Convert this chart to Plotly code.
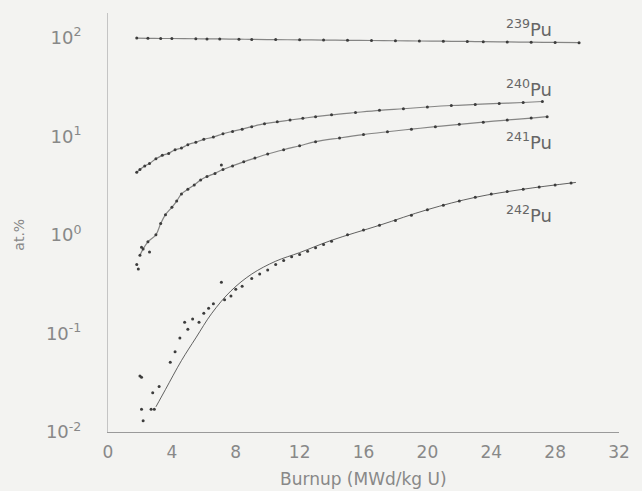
import math
import plotly.graph_objects as go

# ---------------- data ----------------
pu239_x = [1.8, 2.5, 3.3, 4.0, 5.5, 6.2, 7.0, 8.2, 9.0, 10.5, 12.0, 13.5, 15.0, 16.5, 18.0,
           19.5, 21.0, 22.5, 23.5, 25.0, 26.5, 28.0, 29.5]
pu239_y = [99, 98.5, 98, 98, 97.5, 97, 97, 96.5, 96, 95.5, 95, 94.5, 94, 93.5, 93,
           92.5, 92, 91.5, 91, 90.5, 90, 89.5, 89]

pu240_x = [1.8, 2.0, 2.3, 2.6, 3.0, 3.4, 3.8, 4.2, 4.6, 5.0, 5.5, 6.0, 6.6, 7.2, 7.8, 8.4,
           9.0, 9.8, 10.6, 11.4, 12.2, 13.0, 14.0, 15.5, 17.0, 18.5, 20.0, 21.5, 23.0, 24.5,
           26.0, 27.2]
pu240_y = [4.3, 4.6, 5.0, 5.3, 5.9, 6.4, 6.7, 7.3, 7.6, 8.2, 8.7, 9.3, 9.8, 10.6, 11.2, 11.8,
           12.5, 13.4, 14.0, 14.6, 15.2, 15.8, 16.5, 17.4, 18.3, 19.0, 19.8, 20.5, 21.0, 21.5,
           22.0, 22.5]

pu241_x = [2.0, 2.2, 2.5, 3.0, 3.3, 3.6, 4.0, 4.3, 4.6, 5.0, 5.4, 5.8, 6.2,
           6.7, 7.2, 7.8, 8.5, 9.2, 10.0, 11.0, 12.0, 13.0, 14.5, 16.0, 17.5, 19.0, 20.5,
           22.0, 23.5, 25.0, 26.5, 27.5]
pu241_y = [0.62, 0.72, 0.85, 1.0, 1.3, 1.6, 1.9, 2.2, 2.6, 2.9, 3.2, 3.6, 3.9,
           4.2, 4.6, 5.0, 5.5, 6.0, 6.6, 7.3, 8.0, 8.8, 9.6, 10.4, 11.1, 11.8, 12.5,
           13.2, 13.9, 14.6, 15.3, 15.8]
pu241_scatter_x = [1.8, 1.9, 2.1, 2.6, 7.1]
pu241_scatter_y = [0.5, 0.45, 0.75, 0.67, 5.1]

pu242_x = [2.0, 2.1, 2.1, 2.2, 2.7, 2.9, 2.8, 3.2, 3.9, 4.2, 4.5, 4.8, 5.0, 5.3, 5.7, 6.0,
           6.3, 6.6, 7.1, 7.3, 7.7, 8.0, 8.4, 9.0, 9.5, 10.0, 10.5, 11.0, 11.5, 12.0, 12.5,
           13.0, 13.5, 14.0, 15.0, 16.0, 17.0, 18.0, 19.0, 20.0, 21.0, 22.0, 23.0, 24.0,
           25.0, 26.0, 27.0, 28.0, 29.0]
pu242_y = [0.037, 0.036, 0.017, 0.013, 0.017, 0.017, 0.025, 0.029, 0.051, 0.065, 0.09, 0.13,
           0.11, 0.14, 0.13, 0.16, 0.18, 0.2, 0.33, 0.22, 0.24, 0.28, 0.3, 0.36, 0.4, 0.44,
           0.5, 0.55, 0.6, 0.63, 0.68, 0.74, 0.8, 0.86, 1.0, 1.12, 1.25, 1.4, 1.58, 1.8,
           2.0, 2.2, 2.4, 2.6, 2.75, 2.9, 3.05, 3.2, 3.35]

fit242_x = [3.0, 3.6, 4.6, 5.5, 6.5, 7.7, 9.0, 10.5, 12.0, 14.0, 17.0, 20.0, 23.0, 26.0, 29.3]
fit242_y = [0.018, 0.027, 0.053, 0.09, 0.16, 0.27, 0.4, 0.54, 0.66, 0.88, 1.25, 1.8, 2.4, 2.9, 3.4]

label_x = [24.8, 24.8, 24.8, 24.8]
label_y = [126, 31, 9.0, 1.62]
label_mass = ["239", "240", "241", "242"]

x_ticks = [0, 4, 8, 12, 16, 20, 24, 28, 32]
y_ticks = [0.01, 0.1, 1, 10, 100]
y_tick_text = ["10<sup>-2</sup>", "10<sup>-1</sup>", "10<sup>0</sup>", "10<sup>1</sup>", "10<sup>2</sup>"]

# ---------------- figure ----------------
ink = "#3c3c3c"
fig = go.Figure()

for xs, ys in [(pu239_x, pu239_y), (pu240_x, pu240_y), (pu241_x, pu241_y)]:
    fig.add_trace(go.Scatter(x=xs, y=ys, mode="lines+markers",
                             line=dict(color="rgba(60,60,60,0.6)", width=1.2, shape="spline"),
                             marker=dict(color=ink, size=3),
                             showlegend=False, hoverinfo="skip"))

for xs, ys in [(pu241_scatter_x, pu241_scatter_y), (pu242_x, pu242_y)]:
    fig.add_trace(go.Scatter(x=xs, y=ys, mode="markers",
                             marker=dict(color=ink, size=3),
                             showlegend=False, hoverinfo="skip"))

fig.add_trace(go.Scatter(x=fit242_x, y=fit242_y, mode="lines",
                         line=dict(color="rgba(60,60,60,0.8)", width=1, shape="spline"),
                         showlegend=False, hoverinfo="skip"))

for lx, ly, m in zip(label_x, label_y, label_mass):
    fig.add_annotation(x=lx, y=math.log10(ly), yref="y", xref="x",
                       text=f"<sup>{m}</sup>Pu", showarrow=False, xanchor="left",
                       yanchor="middle", font=dict(size=18, color="#666666",
                                                  family="DejaVu Sans"))

fig.add_annotation(x=0.5, y=-0.112, xref="paper", yref="paper", text="Burnup (MWd/kg U)",
                   showarrow=False, xanchor="center", yanchor="middle",
                   font=dict(size=17, color="#888888", family="DejaVu Sans"))
fig.add_annotation(x=-0.175, y=0.47, xref="paper", yref="paper", text="at.%",
                   textangle=-90, showarrow=False, xanchor="center", yanchor="middle",
                   font=dict(size=14, color="#888888", family="DejaVu Sans"))

fig.update_layout(
    width=642, height=491,
    margin=dict(l=108, r=15, t=13, b=59),
    paper_bgcolor="#f3f3f1", plot_bgcolor="#f3f3f1",
    font=dict(family="DejaVu Sans", color="#888888", size=17),
)
fig.update_xaxes(range=[0, 32], tickvals=x_ticks, showgrid=False, zeroline=False,
                 showline=True, linecolor="#9a9a9a", linewidth=1,
                 ticks="outside", ticklen=5, tickcolor="rgba(0,0,0,0)",
                 tickfont=dict(size=17, color="#888888"))
fig.update_yaxes(type="log", range=[-2, 2.25], tickvals=y_ticks, ticktext=y_tick_text,
                 showgrid=False, zeroline=False, showline=True, linecolor="#c4c4c4",
                 linewidth=1, ticks="outside", ticklen=22, tickcolor="rgba(0,0,0,0)",
                 tickfont=dict(size=18, color="#888888"))

fig.write_html("out.html")
